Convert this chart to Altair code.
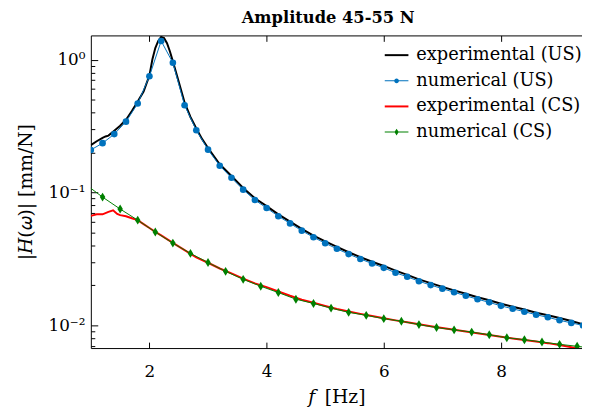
import altair as alt
import pandas as pd

# ---------------- data ----------------
series_names = ["experimental (US)", "numerical (US)", "experimental (CS)", "numerical (CS)"]
series_colors = ["#000000", "#0072bd", "#ff0000", "#008000"]

f_exp_us = [1.0, 1.1, 1.2, 1.25, 1.3, 1.4, 1.5, 1.6, 1.7, 1.8, 1.9, 2.0, 2.05, 2.1, 2.15, 2.2,
            2.25, 2.3, 2.35, 2.4, 2.5, 2.6, 2.7, 2.8, 2.9, 3.0, 3.2, 3.4, 3.6, 3.8, 4.0, 4.2,
            4.4, 4.6, 4.8, 5.0, 5.2, 5.4, 5.6, 5.8, 6.0, 6.2, 6.4, 6.6, 6.8, 7.0, 7.2, 7.4,
            7.6, 7.8, 8.0, 8.2, 8.4, 8.6, 8.8, 9.0, 9.2, 9.4]
H_exp_us = [0.227, 0.243, 0.258, 0.264, 0.268, 0.292, 0.318, 0.353, 0.410, 0.483, 0.575, 0.760,
            1.00, 1.22, 1.38, 1.48, 1.45, 1.33, 1.15, 0.97, 0.68, 0.475, 0.370, 0.303, 0.252,
            0.216, 0.163, 0.133, 0.108, 0.0905, 0.0790, 0.0685, 0.0603, 0.0533, 0.0474, 0.0428,
            0.0389, 0.0355, 0.0326, 0.0301, 0.0280, 0.0258, 0.0240, 0.0222, 0.0208, 0.0195,
            0.01835, 0.0173, 0.0163, 0.01545, 0.01455, 0.0138, 0.01315, 0.01245, 0.0119,
            0.01135, 0.0108, 0.0102]

f_num_us = [1.0, 1.2, 1.4, 1.6, 1.8, 2.0, 2.2, 2.4, 2.6, 2.8, 3.0, 3.2, 3.4, 3.6, 3.8, 4.0,
            4.2, 4.4, 4.6, 4.8, 5.0, 5.2, 5.4, 5.6, 5.8, 6.0, 6.2, 6.4, 6.6, 6.8, 7.0, 7.2,
            7.4, 7.6, 7.8, 8.0, 8.2, 8.4, 8.6, 8.8, 9.0, 9.2, 9.4]
H_num_us = [0.209, 0.235, 0.275, 0.341, 0.467, 0.750, 1.38, 0.947, 0.453, 0.294, 0.210, 0.159,
            0.129, 0.105, 0.0877, 0.0764, 0.0663, 0.0585, 0.0516, 0.0460, 0.0415, 0.0377,
            0.0344, 0.0316, 0.0292, 0.0271, 0.0249, 0.0232, 0.0215, 0.0201, 0.0189, 0.01775,
            0.0167, 0.01574, 0.0149, 0.01403, 0.01333, 0.01267, 0.01203, 0.0115, 0.01093,
            0.01044, 0.0100]

f_exp_cs = [1.0, 1.1, 1.2, 1.3, 1.38, 1.45, 1.5, 1.6, 1.7, 1.8, 1.9, 2.0, 2.1, 2.2, 2.4, 2.6,
            2.8, 3.0, 3.2, 3.4, 3.6, 3.8, 4.0, 4.2, 4.4, 4.6, 4.8, 5.0, 5.2, 5.4, 5.6, 5.8,
            6.0, 6.2, 6.4, 6.6, 6.8, 7.0, 7.2, 7.4, 7.6, 7.8, 8.0, 8.2, 8.4, 8.6, 8.8, 9.0,
            9.2, 9.4]
H_exp_cs = [0.0667, 0.0685, 0.0685, 0.0715, 0.0734, 0.0690, 0.0675, 0.0663, 0.0640, 0.0619,
            0.0578, 0.0540, 0.0505, 0.0476, 0.0418, 0.0368, 0.0325, 0.0296, 0.0268, 0.0246,
            0.0225, 0.0207, 0.0194, 0.0180, 0.0167, 0.0156, 0.0148, 0.0140, 0.0133, 0.0127,
            0.0122, 0.01175, 0.0113, 0.0109, 0.01055, 0.0102, 0.00985, 0.00955, 0.00928,
            0.0090, 0.00872, 0.00845, 0.0082, 0.00798, 0.00775, 0.00755, 0.00735, 0.00712,
            0.00685, 0.0066]

f_num_cs = [0.9, 1.2, 1.5, 1.8, 2.1, 2.4, 2.7, 3.0, 3.3, 3.6, 3.9, 4.2, 4.5, 4.8, 5.1, 5.4,
            5.7, 6.0, 6.3, 6.6, 6.9, 7.2, 7.5, 7.8, 8.1, 8.4, 8.7, 9.0, 9.3, 9.6]
H_num_cs = [0.116, 0.0923, 0.0751, 0.0619, 0.0504, 0.0416, 0.0348, 0.0297, 0.0255, 0.0222,
            0.0197, 0.01766, 0.01574, 0.01462, 0.01349, 0.01254, 0.0119, 0.01124, 0.01075,
            0.01014, 0.00963, 0.00926, 0.0089, 0.0085, 0.00807, 0.0078, 0.0075, 0.0072,
            0.00696, 0.0067]

x_ticks = [2, 4, 6, 8]
y_major = [0.01, 0.1, 1.0]
y_minor = [0.007, 0.008, 0.009, 0.02, 0.03, 0.04, 0.05, 0.06, 0.07, 0.08, 0.09,
           0.2, 0.3, 0.4, 0.5, 0.6, 0.7, 0.8, 0.9]

x_domain = [1.0, 9.383]
y_domain = [0.00675, 1.52]

FONT = "DejaVu Serif"

# ---------------- frames ----------------
df_exp_us = pd.DataFrame({"f": f_exp_us, "H": H_exp_us})
df_num_us = pd.DataFrame({"f": f_num_us, "H": H_num_us})
df_exp_cs = pd.DataFrame({"f": f_exp_cs, "H": H_exp_cs})
df_num_cs = pd.DataFrame({"f": f_num_cs, "H": H_num_cs})
df_leg = pd.DataFrame({"series": series_names, "f": [2.0] * 4, "H": [0.1] * 4})

xs = alt.Scale(domain=x_domain, nice=False, zero=False)
ys = alt.Scale(type="log", domain=y_domain, nice=False)

NOX = None


def X(axis):
    return alt.X("f:Q", scale=xs, axis=axis)


def Y(axis):
    return alt.Y("H:Q", scale=ys, axis=axis)


# axis variants
ax_x_main = alt.Axis(orient="bottom", values=x_ticks, ticks=False, labelPadding=16, format="d",
                     title="𝑓\u2002[Hz]", titlePadding=8, titleFontSize=19, domain=True)
ax_y_main = alt.Axis(orient="left", values=y_major, ticks=False, labelPadding=6,
                     labelExpr="datum.value > 0.5 ? '10⁰' : (datum.value > 0.05 ? '10⁻¹' : '10⁻²')",
                     title="|𝐻(𝜔)| [mm/N]", titlePadding=13, titleFontSize=19, domain=True)
ax_x_tick_b = alt.Axis(orient="bottom", offset=-6, values=x_ticks, tickSize=6, labels=False,
                       domain=False, title=None)
ax_y_tick_major = alt.Axis(orient="left", offset=-7, values=y_major, tickSize=7, labels=False,
                           domain=False, title=None)
ax_x_top = alt.Axis(orient="top", ticks=False, labels=False, domain=True, title=None)
ax_y_tick_minor = alt.Axis(orient="left", offset=-4, values=y_minor, tickSize=4, labels=False,
                           domain=False, title=None)
ax_x_tick_t = alt.Axis(orient="top", offset=-6, values=x_ticks, tickSize=6, labels=False,
                       domain=False, title=None)

exp_us = alt.Chart(df_exp_us).mark_line(color=series_colors[0], strokeWidth=2, clip=True).encode(
    x=X(ax_x_main), y=Y(ax_y_main))
num_us_line = alt.Chart(df_num_us).mark_line(color=series_colors[1], strokeWidth=1, clip=True).encode(
    x=X(ax_x_tick_b), y=Y(ax_y_tick_major))
num_us_pts = alt.Chart(df_num_us).mark_point(filled=True, shape="circle", size=45, opacity=1,
                                             color=series_colors[1], clip=True).encode(
    x=X(ax_x_top), y=Y(ax_y_tick_minor))
exp_cs = alt.Chart(df_exp_cs).mark_line(color=series_colors[2], strokeWidth=2, clip=True).encode(
    x=X(ax_x_tick_t), y=Y(NOX))
num_cs_line = alt.Chart(df_num_cs).mark_line(color=series_colors[3], strokeWidth=1, clip=True).encode(
    x=X(NOX), y=Y(NOX))
num_cs_pts = alt.Chart(df_num_cs).mark_point(filled=True, shape="M0,-1L0.62,0L0,1L-0.62,0Z", size=81,
                                             opacity=1, color=series_colors[3], clip=True).encode(
    x=X(NOX), y=Y(NOX))

# legend-only layer (no visible marks)
leg_shapes = [
    "M-1,-0.0833L1,-0.0833L1,0.0833L-1,0.0833Z",
    "M-1,-0.045L1,-0.045L1,0.045L-1,0.045Z M0.2,0A0.2,0.2,0,1,1,-0.2,0A0.2,0.2,0,1,1,0.2,0Z",
    "M-1,-0.0833L1,-0.0833L1,0.0833L-1,0.0833Z",
    "M-1,-0.045L1,-0.045L1,0.045L-1,0.045Z M0,-0.28L0.18,0L0,0.28L-0.18,0Z",
]
legend_layer = alt.Chart(df_leg).transform_filter("false").mark_point(filled=True, opacity=1).encode(
    x=X(NOX), y=Y(NOX),
    fill=alt.Fill("series:N", scale=alt.Scale(domain=series_names, range=series_colors),
                  legend=alt.Legend(orient="none", legendX=298, legendY=8, title=None,
                                    labelFont=FONT, labelFontSize=18, labelColor="black",
                                    symbolSize=576, symbolStrokeWidth=0, symbolOpacity=1,
                                    padding=0, rowPadding=5, labelOffset=8, labelLimit=400)),
    shape=alt.Shape("series:N", scale=alt.Scale(domain=series_names, range=leg_shapes)),
)

chart = alt.layer(
    exp_us, num_us_line, num_us_pts, exp_cs, num_cs_line, num_cs_pts, legend_layer
).resolve_axis(x="independent", y="independent").properties(
    width=498, height=317,
    autosize=alt.AutoSizeParams(type="none"),
    padding={"left": 84, "top": 25, "right": 0, "bottom": 60},
    title=alt.TitleParams("Amplitude 45-55 N", font=FONT, fontSize=16.5, fontWeight="bold",
                          anchor="start", frame="group", dx=153, offset=9, color="black"),
).configure_axis(
    labelFont=FONT, labelFontSize=17, labelColor="black",
    titleFont=FONT, titleFontSize=18, titleColor="black", titleFontWeight="normal",
    grid=False, domainColor="#000000", tickColor="#000000", domainWidth=1, tickWidth=1,
).configure_legend(
    labelFont=FONT, labelFontSize=18, labelColor="black",
).configure_view(stroke=None)

chart.save("out.html", embed_options={"renderer": "svg", "actions": False})
